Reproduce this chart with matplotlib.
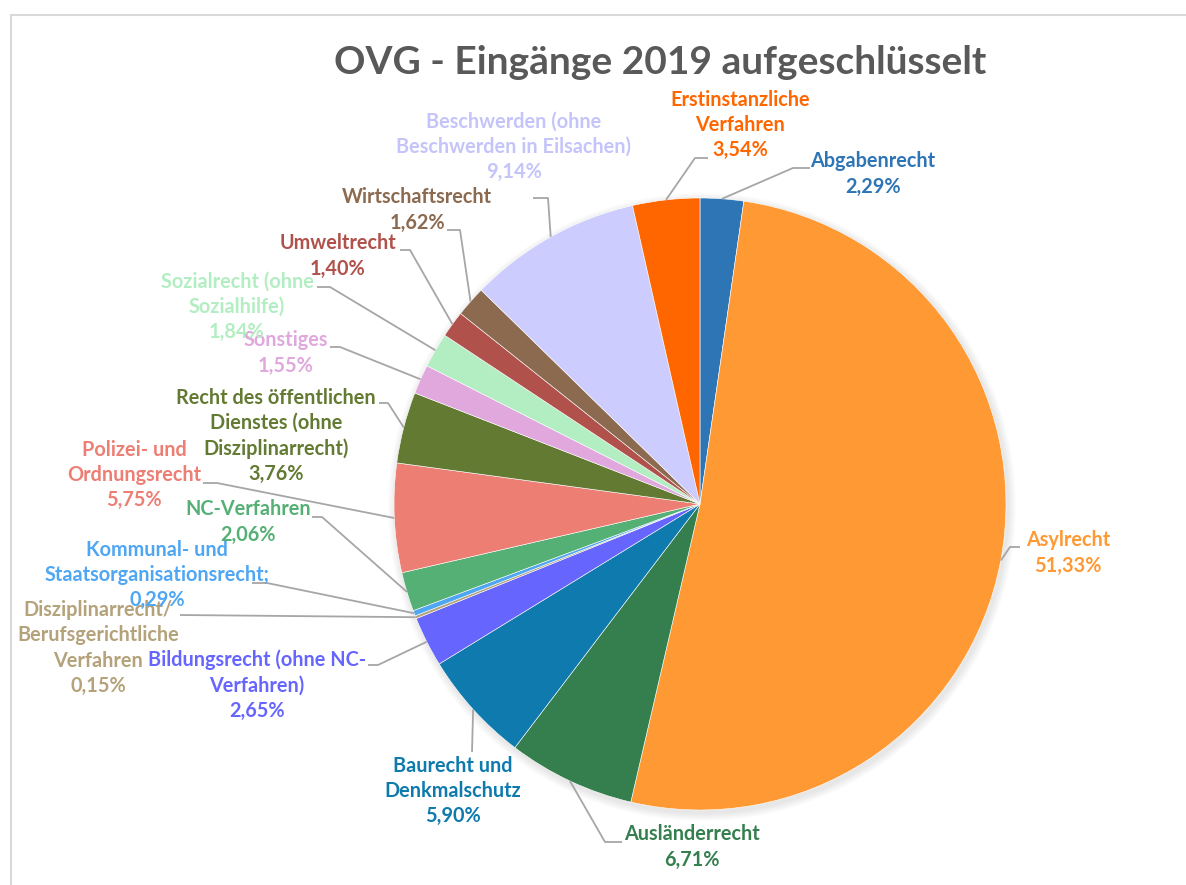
import matplotlib.pyplot as plt
from matplotlib.lines import Line2D
from matplotlib.patches import Circle
import numpy as np

plt.rcParams['font.family'] = ['Lato', 'DejaVu Sans']

# data (clockwise from 12 o'clock)
categories = ['Abgabenrecht', 'Asylrecht', 'Ausländerrecht', 'Baurecht und\nDenkmalschutz',
              'Bildungsrecht (ohne NC-\nVerfahren)', 'Disziplinarrecht/\nBerufsgerichtliche\nVerfahren',
              'Kommunal- und\nStaatsorganisationsrecht;', 'NC-Verfahren', 'Polizei- und\nOrdnungsrecht',
              'Recht des öffentlichen\nDienstes (ohne\nDisziplinarrecht)', 'Sonstiges',
              'Sozialrecht (ohne\nSozialhilfe)', 'Umweltrecht', 'Wirtschaftsrecht',
              'Beschwerden (ohne\nBeschwerden in Eilsachen)', 'Erstinstanzliche\nVerfahren']
shares = [2.29, 51.33, 6.71, 5.90, 2.65, 0.15, 0.29, 2.06, 5.75, 3.76, 1.55, 1.84, 1.40, 1.62, 9.14, 3.54]
colors = ['#2E75B6', '#FF9933', '#357F4F', '#0E7AAE', '#6666FF', '#B4A27A', '#4FA6F2', '#55B075',
          '#EC7E74', '#637A33', '#E0A8DC', '#B3EEC2', '#B0514B', '#8B6A50', '#CCCCFF', '#FF6600']

W, H = 1186, 885
cx, cy, R = 700, 504, 306

# label block centres and leader knees, in pixels from top-left
text_pos = [(873, 174), (1068, 553), (692, 847), (453, 791), (257, 685), (98, 648), (157, 575),
            (248, 522), (134, 475), (276, 436), (286, 353), (237, 307), (338, 256), (417, 210),
            (514, 147), (740, 125)]
knees = [[(810, 168), (793, 168)], [(1020, 547), (1010, 547)], [(622, 842), (605, 842)],
         [(472, 752)], [(368, 665), (378, 665)], [(180, 615)], [(252, 583), (267, 583)],
         [(312, 517), (322, 517)], [(203, 483), (217, 483)], [(379, 403), (388, 403)],
         [(330, 347), (340, 347)], [(317, 287), (330, 287)], [(400, 250), (410, 250)],
         [(447, 230), (460, 230)], [(533, 198), (548, 198)], [(708, 158), (695, 158)]]

fig = plt.figure(figsize=(W / 100, H / 100), dpi=100)
ax = fig.add_axes([0, 0, 1, 1])

# soft shadow round the pie
for i in range(8):
    ax.add_patch(Circle((cx + 2, H - cy - 3), R + 8 - i, color='black', alpha=0.012, lw=0, zorder=0))

wedges, _ = ax.pie(shares, colors=colors, startangle=90, counterclock=False,
                   center=(cx, H - cy), radius=R, frame=True,
                   wedgeprops=dict(linewidth=0.4, edgecolor='white'))
ax.set_xlim(0, W)
ax.set_ylim(0, H)
ax.set_aspect('equal')
ax.axis('off')

for w, name, v, col, (tx, ty), kn in zip(wedges, categories, shares, colors, text_pos, knees):
    mid = np.deg2rad((w.theta1 + w.theta2) / 2)
    ex = w.center[0] + w.r * np.cos(mid)
    ey = w.center[1] + w.r * np.sin(mid)
    xs = [k[0] for k in kn] + [ex]
    ys = [H - k[1] for k in kn] + [ey]
    ax.plot(xs, ys, color='#A6A6A6', lw=1.3, zorder=5, solid_capstyle='butt')
    txt = name + '\n' + f'{v:.2f}'.replace('.', ',') + '%'
    tcol = '#C4C4FA' if name.startswith('Beschwerden') else col
    ax.text(tx, H - ty, txt, ha='center', va='center', color=tcol, fontsize=14.3,
            fontweight='bold', linespacing=1.33, zorder=6)

ax.text(660, H - 62, 'OVG - Eingänge 2019 aufgeschlüsselt', ha='center', va='center',
        fontsize=28, fontweight='bold', color='#595959')

# chart area border (only top and left visible)
fig.add_artist(Line2D([11 / W, 11 / W], [0, 1 - 15 / H], color='#D9D9D9', lw=1.5))
fig.add_artist(Line2D([11 / W, 1], [1 - 15 / H, 1 - 15 / H], color='#D9D9D9', lw=1.5))

plt.savefig('out.png', dpi=100)
